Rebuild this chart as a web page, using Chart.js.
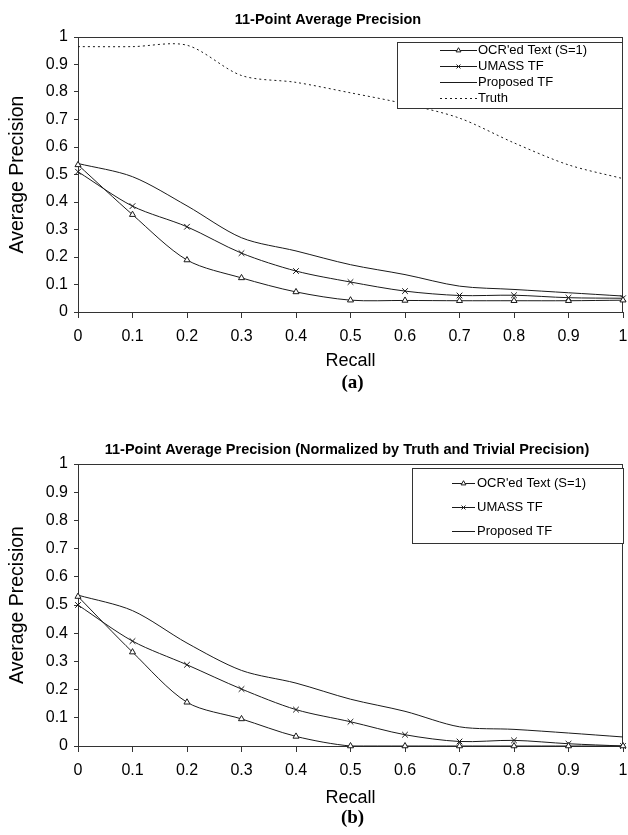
<!DOCTYPE html>
<html>
<head>
<meta charset="utf-8">
<script src="https://cdn.jsdelivr.net/npm/chart.js@4.4.1/dist/chart.umd.min.js"></script>
<style>
  html, body { margin: 0; padding: 0; background: #fff; }
  body { width: 628px; height: 835px; position: relative; overflow: hidden; }
  .wrap { position: absolute; left: 0; width: 628px; height: 372px; }
  .cap { position: absolute; left: 0; width: 705px; text-align: center;
         font: bold 19px "Liberation Serif", "Times New Roman", serif; color: #000; }
</style>
</head>
<body>
<div class="wrap" style="top:0"><canvas id="chartA" width="628" height="372"></canvas></div>
<div class="cap" style="top:371px">(a)</div>
<div class="wrap" style="top:438px"><canvas id="chartB" width="628" height="372"></canvas></div>
<div class="cap" style="top:806px">(b)</div>
<script>
// recall levels (x axis)
const recall = [0, 0.1, 0.2, 0.3, 0.4, 0.5, 0.6, 0.7, 0.8, 0.9, 1];
const yTicks = [0, 0.1, 0.2, 0.3, 0.4, 0.5, 0.6, 0.7, 0.8, 0.9, 1];

// (a) 11-point average precision
const ocrA      = [0.535, 0.354, 0.189, 0.124, 0.073, 0.043, 0.042, 0.041, 0.041, 0.041, 0.043];
const umassA    = [0.51, 0.385, 0.31, 0.214, 0.149, 0.109, 0.076, 0.06, 0.061, 0.052, 0.05];
const proposedA = [0.54, 0.492, 0.386, 0.27, 0.222, 0.172, 0.136, 0.094, 0.082, 0.07, 0.058];
const truthA    = [0.965, 0.965, 0.97, 0.86, 0.835, 0.797, 0.757, 0.705, 0.615, 0.535, 0.485];

// (b) normalized by truth and trivial precision
const ocrB      = [0.53, 0.333, 0.155, 0.096, 0.034, 0, 0, 0, 0, 0, 0];
const umassB    = [0.5, 0.372, 0.288, 0.202, 0.129, 0.086, 0.04, 0.016, 0.02, 0.008, 0];
const proposedB = [0.535, 0.48, 0.365, 0.268, 0.223, 0.166, 0.123, 0.068, 0.059, 0.046, 0.032];

const INK = '#1a1a1a';
const FONT = "'Liberation Sans', Arial, sans-serif";

const pts = arr => arr.map((v, i) => ({x: recall[i], y: v}));

const series = (label, data, style) => Object.assign({
  label: label,
  data: pts(data),
  borderColor: INK,
  backgroundColor: '#fff',
  borderWidth: 1,
  pointRadius: 0,
  pointBorderColor: INK,
  pointBackgroundColor: '#fff',
  pointBorderWidth: 1,
  tension: 0.3,
  clip: false
}, style);

// box around plot area, chart title (off-centre like excel), boxed legend
const plotBox = {
  id: 'plotBox',
  beforeDatasetsDraw(chart) {
    const {ctx, chartArea: a} = chart;
    ctx.save();
    ctx.strokeStyle = '#333';
    ctx.lineWidth = 1;
    ctx.strokeRect(Math.round(a.left) + 0.5, Math.round(a.top) + 0.5, Math.round(a.right - a.left) - 1, Math.round(a.bottom - a.top));
    ctx.restore();
  },
  afterDatasetsDraw(chart, args, opts) {
    const ctx = chart.ctx;
    ctx.save();
    ctx.fillStyle = '#000';
    ctx.font = 'bold 14.5px ' + FONT;
    ctx.textAlign = 'center';
    ctx.textBaseline = 'middle';
    ctx.fillText(opts.title, opts.titleX, opts.titleY);

    ctx.textAlign = 'left';
    ctx.fillStyle = '#fff';
    ctx.fillRect(opts.x, opts.y, opts.w, opts.h);
    ctx.strokeStyle = '#333';
    ctx.lineWidth = 1;
    ctx.strokeRect(opts.x + 0.5, opts.y + 0.5, opts.w, opts.h);
    ctx.font = '13px ' + FONT;
    chart.data.datasets.forEach((ds, i) => {
      const yy = Math.round(opts.rows[i]) + 0.5;
      ctx.strokeStyle = INK;
      ctx.lineWidth = 1;
      ctx.setLineDash(ds.borderDash || []);
      ctx.beginPath();
      ctx.moveTo(opts.sx, yy);
      ctx.lineTo(opts.sx + opts.sw, yy);
      ctx.stroke();
      ctx.setLineDash([]);
      if (ds.pointStyle && ds.pointRadius > 0) {
        ctx.fillStyle = '#fff';
        Chart.helpers.drawPoint(ctx, {pointStyle: ds.pointStyle, radius: 2.8, rotation: 0, borderWidth: 1},
          opts.sx + opts.sw / 2, yy);
      }
      ctx.fillStyle = '#000';
      ctx.fillText(ds.label, opts.tx, yy);
    });
    ctx.restore();
  }
};

function makeChart(id, datasets, cfg) {
  return new Chart(document.getElementById(id), {
    type: 'line',
    data: {datasets: datasets},
    plugins: [plotBox],
    options: {
      responsive: false,
      animation: false,
      layout: {padding: {left: 0, right: 1, top: cfg.plotTop, bottom: 0}},
      plugins: {
        legend: {display: false},
        tooltip: {enabled: false},
        title: {display: false},
        plotBox: cfg.legend
      },
      scales: {
        x: {
          type: 'linear',
          min: 0,
          max: 1,
          afterBuildTicks: s => { s.ticks = recall.map(v => ({value: v})); },
          afterFit: s => { s.height = cfg.xHeight; s.paddingLeft = 0; s.paddingRight = 0; },
          grid: {drawOnChartArea: false, drawTicks: true, tickLength: 6, color: '#333'},
          border: {color: '#333'},
          ticks: {
            color: '#000',
            padding: 9,
            maxRotation: 0,
            autoSkip: false,
            font: {family: FONT, size: 16},
            callback: v => String(+v.toFixed(1))
          },
          title: {display: true, text: 'Recall', color: '#000',
                  font: {family: FONT, size: 18}, padding: {top: 0, bottom: cfg.recallPad}}
        },
        y: {
          min: 0,
          max: 1,
          afterBuildTicks: s => { s.ticks = yTicks.map(v => ({value: v})); },
          afterFit: s => { s.width = 78; s.paddingTop = 0; s.paddingBottom = 0; },
          grid: {drawOnChartArea: false, drawTicks: true, tickLength: 4, color: '#333'},
          border: {color: '#333'},
          ticks: {
            color: '#000',
            padding: 6,
            font: {family: FONT, size: 16},
            callback: v => String(+v.toFixed(1))
          },
          title: {display: true, text: 'Average Precision', color: '#000',
                  font: {family: FONT, size: 19.5}, padding: {top: 6, bottom: 0}}
        }
      }
    }
  });
}

makeChart('chartA', [
  series("OCR'ed Text (S=1)", ocrA, {pointStyle: 'triangle', pointRadius: 3.5}),
  series('UMASS TF', umassA, {pointStyle: 'crossRot', pointRadius: 4}),
  series('Proposed TF', proposedA, {}),
  series('Truth', truthA, {borderDash: [2, 3]})
], {
  plotTop: 37, xHeight: 60, recallPad: 0,
  legend: {title: '11-Point Average Precision', titleX: 328, titleY: 20,
           x: 397, y: 42, w: 225, h: 66, rows: [50, 66, 82, 98], sx: 440, sw: 37, tx: 478}
});

makeChart('chartB', [
  series("OCR'ed Text (S=1)", ocrB, {pointStyle: 'triangle', pointRadius: 3.5}),
  series('UMASS TF', umassB, {pointStyle: 'crossRot', pointRadius: 4}),
  series('Proposed TF', proposedB, {})
], {
  plotTop: 26, xHeight: 64, recallPad: 1,
  legend: {title: '11-Point Average Precision (Normalized by Truth and Trivial Precision)', titleX: 347, titleY: 12,
           x: 412, y: 30, w: 211, h: 75, rows: [45, 69, 93], sx: 452, sw: 23, tx: 477}
});
</script>
</body>
</html>
